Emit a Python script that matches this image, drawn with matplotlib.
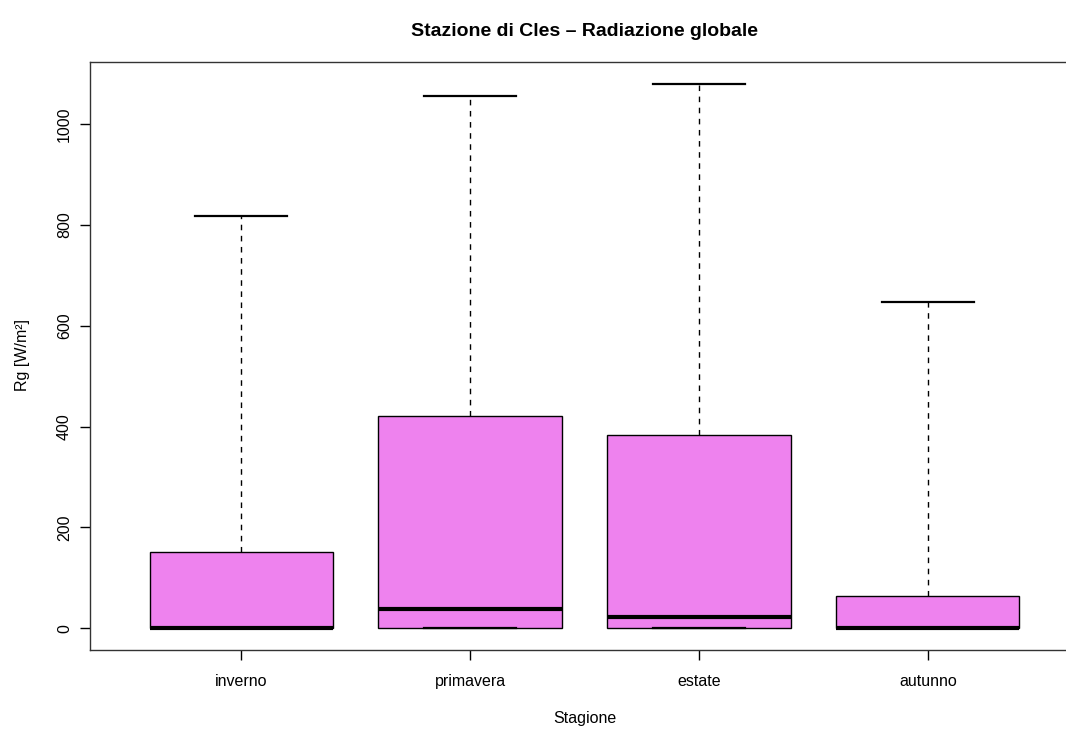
import matplotlib
matplotlib.use("Agg")
import matplotlib.pyplot as plt

plt.rcParams["font.family"] = ["Liberation Sans", "DejaVu Sans"]

# Radiazione globale per stagione
stagioni = ["inverno", "primavera", "estate", "autunno"]
whislo = [0, 0, 0, 0]
q1 = [0, 0, 0, 0]
med = [0, 39, 23, 0]
q3 = [152, 420, 383, 64]
whishi = [817, 1055, 1080, 647]

stats = []
for i in range(len(stagioni)):
    stats.append({"label": stagioni[i], "whislo": whislo[i], "q1": q1[i],
                  "med": med[i], "q3": q3[i], "whishi": whishi[i], "fliers": []})

fig = plt.figure(figsize=(10.66, 7.31), dpi=100)
# il riquadro a destra esce dall'immagine come nell'originale
ax = fig.add_axes([90/1066, (731-650)/731, (1079-90)/1066, (650-62)/731])

ax.bxp(stats, positions=[1, 2, 3, 4], widths=0.8, patch_artist=True,
       showfliers=False,
       boxprops=dict(facecolor="violet", edgecolor="black", linewidth=1),
       medianprops=dict(color="black", linewidth=3, solid_capstyle="butt"),
       whiskerprops=dict(color="black", linestyle=(0, (4, 4)), linewidth=1),
       capprops=dict(color="black", linewidth=1.6))

ax.set_xlim(0.34, 4.66)
ax.set_ylim(-43.2, 1123.2)
ax.set_yticks([0, 200, 400, 600, 800, 1000])
ax.set_yticklabels(["0", "200", "400", "600", "800", "1000"], rotation=90, va="center")
ax.tick_params(axis="both", direction="out", length=7, width=1, labelsize=11.5, pad=6)
ax.tick_params(axis="x", pad=10)

for s in ax.spines.values():
    s.set_linewidth(1)
    s.set_color("#333333")

# titolo ed etichetta x centrati sul riquadro del grafico
xc = (90 + 1079) / 2 / 1066
fig.text(xc, 1 - 32/731, "Stazione di Cles \u2013 Radiazione globale",
         ha="center", va="center", fontsize=14, weight="bold")
fig.text(xc, 1 - 718/731, "Stagione", ha="center", va="center", fontsize=11.5)
fig.text(22/1066, 1 - 355/731, "Rg [W/m\u00b2]", ha="center", va="center",
         rotation=90, fontsize=11.5)

plt.savefig("out.png", dpi=100)
